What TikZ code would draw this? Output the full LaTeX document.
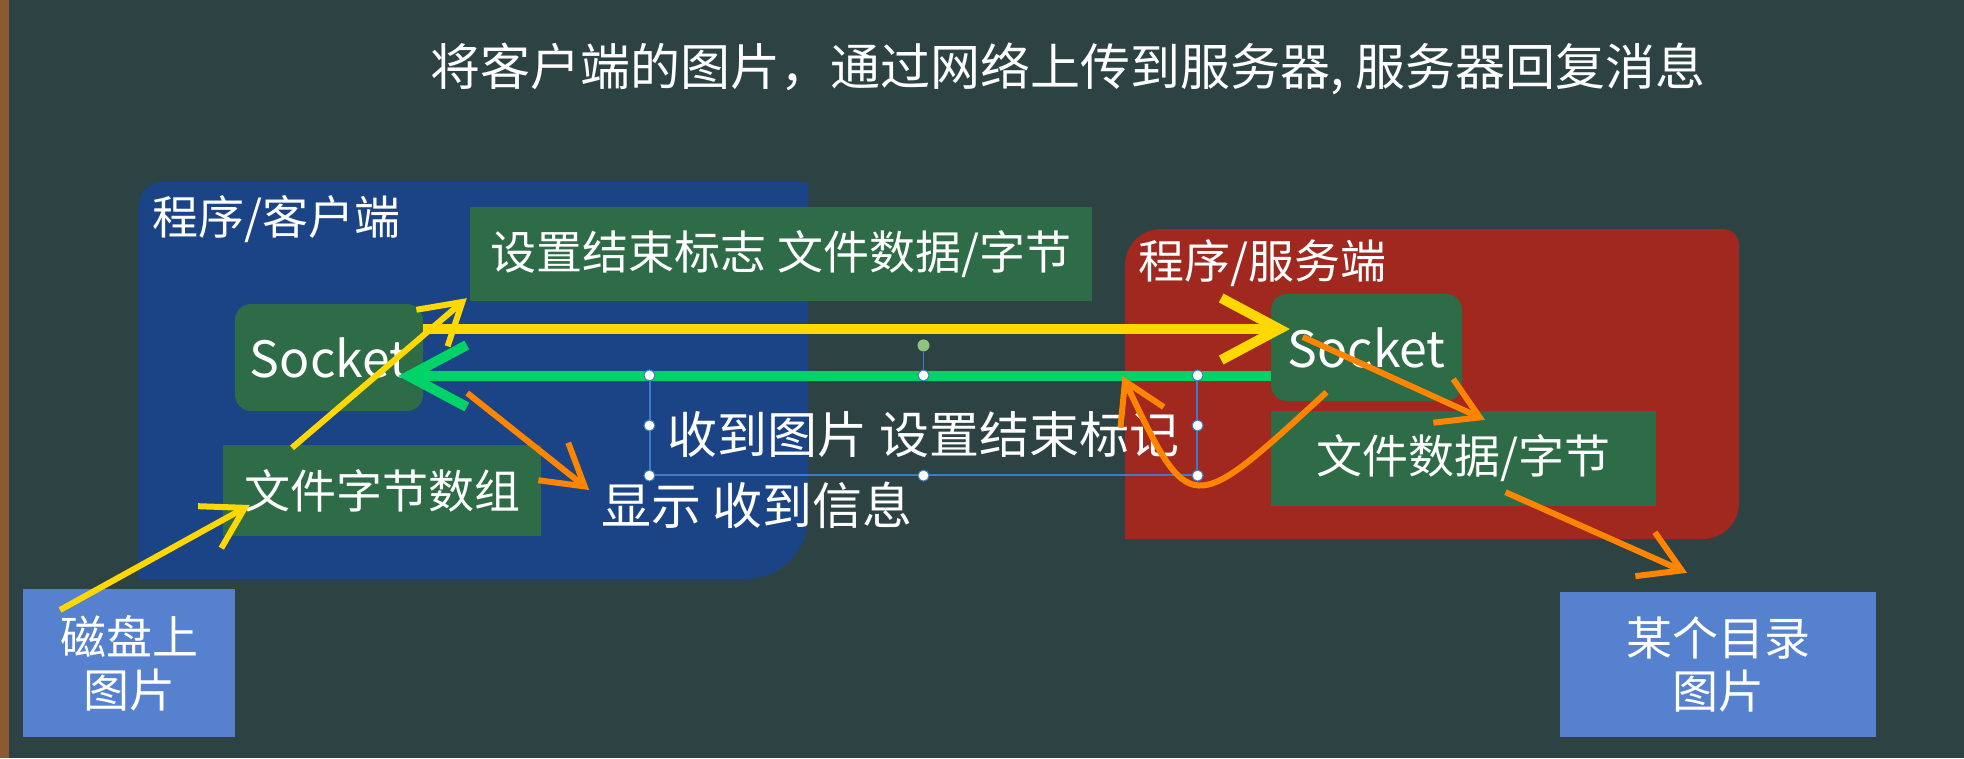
\documentclass[tikz,border=0pt]{standalone}
\usepackage{fontspec}
\newfontfamily\cjk{Noto Sans CJK SC}
\usetikzlibrary{arrows.meta}

\definecolor{board}{HTML}{2D4343}
\definecolor{woodframe}{HTML}{8A5A32}
\definecolor{clientblue}{HTML}{1A4485}
\definecolor{serverred}{HTML}{A1281E}
\definecolor{boxgreen}{HTML}{2E6B47}
\definecolor{diskblue}{HTML}{5581CE}
\definecolor{sendyellow}{HTML}{FFD800}
\definecolor{replygreen}{HTML}{00D468}
\definecolor{stepsorange}{HTML}{FF8400}
\definecolor{selblue}{HTML}{3E7CC6}
\definecolor{rotgreen}{HTML}{8FC47E}

\begin{document}
\begin{tikzpicture}[x=1pt, y=-1pt, every node/.style={font=\cjk\fontsize{46}{53}\selectfont, text=white, inner sep=0pt}]
\tikzset{
  bigtext/.style={font=\cjk\fontsize{50}{58}\selectfont},
  box/.style={fill=boxgreen, align=center},
  picbox/.style={fill=diskblue, align=center, minimum width=212pt, minimum height=148pt},
  bigarrow/.style={line width=10pt, -{Straight Barb[length=58pt, width=62pt]}},
  smallarrow/.style={line width=6pt, -{Straight Barb[length=40pt, width=48pt]}},
  handle/.style={circle, draw=selblue, fill=white, line width=1pt, minimum size=11pt}
}

\useasboundingbox (0,0) rectangle (1964,758);
\fill[board] (0,0) rectangle (1964,758);
\fill[woodframe] (0,0) rectangle (9,758);

% Panels
\fill[clientblue] (138,579) [rounded corners=25pt] -- (138,182) [sharp corners] -- (808,182) [rounded corners=62pt] -- (808,579) [sharp corners] -- cycle;
\fill[serverred] (1125,539) [rounded corners=36pt] -- (1125,229) [rounded corners=16pt] -- (1739,229) [rounded corners=36pt] -- (1739,539) [sharp corners] -- cycle;

% Nodes
\node[bigtext] (title) at (1068,69) {将客户端的图片，通过网络上传到服务器, 服务器回复消息};
\node[anchor=west] (clientlbl) at (152,219) {程序/客户端};
\node[box, minimum width=622pt, minimum height=94pt] (endflag) at (781,254) {设置结束标志 文件数据/字节};
\node[box, bigtext, rounded corners=16pt, minimum width=188pt, minimum height=107pt] (csock) at (329,357.5) {Socket};
\node[box, minimum width=318pt, minimum height=91pt] (bytes) at (382,490.5) {文件字节数组};
\node[bigtext] (show) at (757,505) {显示 收到信息};
\node[bigtext, draw=selblue, line width=1.2pt, minimum width=547pt, minimum height=99pt, text height=60pt, text depth=4pt] (recv) at (923.5,425.5) {收到图片 设置结束标记};
\node[anchor=west] (serverlbl) at (1138,263) {程序/服务端};
\node[box, bigtext, rounded corners=16pt, minimum width=191pt, minimum height=107pt] (ssock) at (1366.5,347.5) {Socket};
\node[box, minimum width=385pt, minimum height=95pt] (sdata) at (1463.5,458.5) {文件数据/字节};
\node[picbox] (disk) at (129,663) {磁盘上\\图片};
\node[picbox, minimum width=316pt, minimum height=145pt] (dir) at (1718,664.5) {某个目录\\图片};

% Arrows
\draw[sendyellow, smallarrow] ([xshift=-69pt, yshift=53pt]disk.center) -- ([xshift=27pt, yshift=-14.5pt]bytes.west);
\draw[sendyellow, smallarrow] ([xshift=-90pt, yshift=-3pt]bytes.north) -- ([xshift=-3pt, yshift=3pt]endflag.south west);
\draw[sendyellow, bigarrow] ([yshift=28.5pt]csock.east) -- ([xshift=19pt, yshift=18.5pt]ssock.west);
\draw[replygreen, bigarrow] ([yshift=-28.5pt]ssock.west) -- coordinate[pos=0.17] (mark) ([xshift=-25pt, yshift=-18.5pt]csock.east);
\draw[stepsorange, smallarrow] ([xshift=44pt, yshift=-35.5pt]csock.east) -- ([xshift=-12pt, yshift=15pt]show.west);
\draw[stepsorange, smallarrow] ([xshift=32pt, yshift=10.5pt]ssock.west) -- ([xshift=21.5pt, yshift=-9pt]sdata.north);
\draw[stepsorange, smallarrow] ([xshift=-40pt, yshift=9pt]ssock.south) .. controls (1190,518) and (1190,518) .. (mark);
\draw[stepsorange, smallarrow] ([xshift=42pt, yshift=14pt]sdata.south) -- ([xshift=-31pt, yshift=19pt]dir.north);

% Selection handles
\foreach \a in {north west, north, north east, west, east, south west, south, south east}
  \node[handle] (h-\a) at (recv.\a) {};
\node[circle, fill=rotgreen, minimum size=12pt] (rot) at ([yshift=30pt]recv.north) {};
\draw[selblue, line width=1pt] (rot) -- (h-north);
\end{tikzpicture}
\end{document}
